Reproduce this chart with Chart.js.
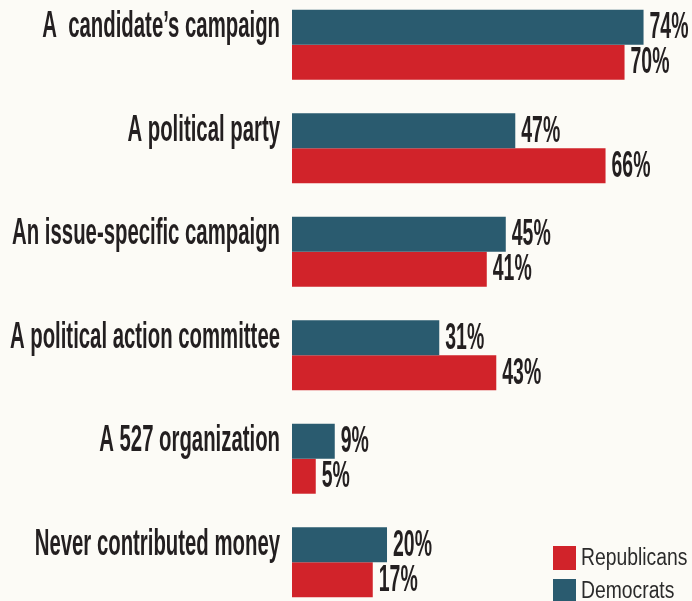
<!DOCTYPE html>
<html>
<head>
<meta charset="utf-8">
<script src="https://cdn.jsdelivr.net/npm/chart.js@4/dist/chart.umd.min.js"></script>
<style>
  html, body { margin: 0; padding: 0; background: #fcfbf6; overflow: hidden; }
  #wrap { position: absolute; left: 0; top: -7px; width: 692px; height: 621px; }
</style>
</head>
<body>
<div id="wrap"><canvas id="chart"></canvas></div>
<script>
var categories = [
  "A  candidate’s campaign",
  "A political party",
  "An issue-specific campaign",
  "A political action committee",
  "A 527 organization",
  "Never contributed money"
];
var democrats = [74, 47, 45, 31, 9, 20];
var republicans = [70, 66, 41, 43, 5, 17];

var DEM = "#2a5b6f";
var REP = "#d1232a";
var INK = "#231f20";

// squeezed lettering: the sans is compressed sideways to get a tall narrow face
function squeezed(ctx, text, x, y, align, font, sx, color) {
  ctx.save();
  ctx.font = font;
  ctx.fillStyle = color;
  ctx.textAlign = align;
  ctx.textBaseline = "middle";
  ctx.translate(x, y);
  ctx.scale(sx, 1);
  ctx.fillText(text, 0, 0);
  ctx.restore();
}

var HEAVY = "bold 36px 'Liberation Sans', Arial, sans-serif";
var PLAIN = "23px 'Liberation Sans', Arial, sans-serif";

var labelsPlugin = {
  id: "labels",
  afterDatasetsDraw: function(chart) {
    var ctx = chart.ctx;

    // category names, lined up on the top bar of each pair
    var top = chart.getDatasetMeta(0).data;
    categories.forEach(function(name, i) {
      squeezed(ctx, name, 280, top[i].y, "right", HEAVY, 0.565, INK);
    });

    // values at the end of each bar
    chart.data.datasets.forEach(function(ds, d) {
      chart.getDatasetMeta(d).data.forEach(function(bar, i) {
        squeezed(ctx, ds.data[i] + "%", bar.x + 6, bar.y + 1, "left", HEAVY, 0.54, INK);
      });
    });

    // legend, bottom right: Republicans first
    var items = [chart.data.datasets[1], chart.data.datasets[0]];
    items.forEach(function(ds, k) {
      var by = 553 + k * 33;
      ctx.fillStyle = ds.backgroundColor;
      ctx.fillRect(553, by, 23, 24);
      squeezed(ctx, ds.label, 581, by + 13, "left", PLAIN, 0.84, "#2b2b2b");
    });
  }
};

var canvas = document.getElementById('chart').getContext('2d');
window.bars = new Chart(canvas, {
  type: "bar",
  data: {
    labels: categories,
    datasets: [
      { label: "Democrats", data: democrats, backgroundColor: DEM },
      { label: "Republicans", data: republicans, backgroundColor: REP }
    ]
  },
  options: {
    indexAxis: "y",
    responsive: true,
    maintainAspectRatio: false,
    animation: false,
    layout: { padding: 0 },
    datasets: {
      bar: { barPercentage: 1, categoryPercentage: 0.676, borderWidth: 0 }
    },
    scales: {
      x: { display: false, min: 0, max: 84.2 },
      y: {
        grid: { display: false },
        border: { display: false },
        ticks: { display: false },
        afterFit: function(scale) { scale.width = 292; }
      }
    },
    plugins: {
      legend: { display: false },
      tooltip: { enabled: false }
    }
  },
  plugins: [labelsPlugin]
});
</script>
</body>
</html>
